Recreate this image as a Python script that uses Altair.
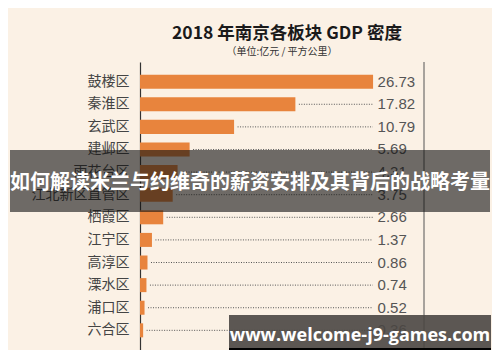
import altair as alt
import pandas as pd

# ---- data ----
districts = ["鼓楼区", "秦淮区", "玄武区", "建邺区", "雨花台区", "江北新区直管区",
             "栖霞区", "江宁区", "高淳区", "溧水区", "浦口区", "六合区"]
values = [26.73, 17.82, 10.79, 5.69, 4.31, 3.75, 2.66, 1.37, 0.86, 0.74, 0.52, 0.36]

title_text = ["2018 年南京各板块 GDP 密度"]
subtitle_text = ["（单位:亿元 / 平方公里）"]
banner_text = ["如何解读米兰与约维奇的薪资安排及其背后的战略考量"]
watermark_text = ["www.welcome-j9-games.com"]

df = pd.DataFrame({"district": districts, "value": values,
                   "label": [f"{v:.2f}" for v in values]})

BG = "#fbf1e5"
ORANGE = "#e8843d"
CJK = "Noto Sans CJK SC"

W, H = 284, 288
xscale = alt.Scale(domain=[0, 32.57], nice=False, zero=True)
yscale = alt.Scale(domain=districts, paddingInner=0.38, paddingOuter=0.56)

base = alt.Chart(df)

bars = base.mark_bar(color=ORANGE).encode(
    x=alt.X("value:Q", scale=xscale, axis=None),
    y=alt.Y("district:N", scale=yscale, sort=districts,
            axis=alt.Axis(title=None, ticks=False, grid=False, labelFontSize=14,
                          labelColor="#444", labelFont=CJK, labelPadding=11,
                          domainColor="#333", domainWidth=1.2)),
)

dots = base.transform_filter("datum.value < 26").transform_calculate(
    x0="datum.value + 0.4", x1="26.7"
).mark_rule(color="#555", strokeDash=[1, 1.5], strokeWidth=1).encode(
    x=alt.X("x0:Q", scale=xscale),
    x2="x1:Q",
    y=alt.Y("district:N", scale=yscale, sort=districts),
)

labels = base.transform_calculate(lx="27.25").mark_text(
    align="left", baseline="middle", fontSize=15, font="Liberation Sans", color="#555"
).encode(
    x=alt.X("lx:Q", scale=xscale),
    y=alt.Y("district:N", scale=yscale, sort=districts),
    text="label:N",
)

one = alt.Chart(pd.DataFrame({"a": [0]}))

right_line = one.mark_rule(color="#555", strokeWidth=1).encode(
    x=alt.value(W), y=alt.value(0), y2=alt.value(H))

title = alt.Chart(pd.DataFrame({"t": title_text})).mark_text(
    font=CJK, fontSize=17.5, fontWeight="bold", color="#1a1a1a", align="center", baseline="middle"
).encode(x=alt.value(147), y=alt.value(-28), text="t:N")

subtitle = alt.Chart(pd.DataFrame({"t": subtitle_text})).mark_text(
    font=CJK, fontSize=10, color="#333", align="center", baseline="middle"
).encode(x=alt.value(142), y=alt.value(-10), text="t:N")

banner = one.mark_rect(color="#111", opacity=0.6).encode(
    x=alt.value(-130), x2=alt.value(350), y=alt.value(88), y2=alt.value(150))

banner_t = alt.Chart(pd.DataFrame({"t": banner_text})).mark_text(
    font=CJK, fontSize=20, fontWeight="bold", color="white", align="center", baseline="middle"
).encode(x=alt.value(110), y=alt.value(121), text="t:N")

wm = one.mark_rect(color="#4a4642", opacity=0.9).encode(
    x=alt.value(89), x2=alt.value(351), y=alt.value(253), y2=alt.value(288))

wm_line = one.mark_rect(color="#000").encode(
    x=alt.value(89), x2=alt.value(351), y=alt.value(286), y2=alt.value(288))

wm_t = alt.Chart(pd.DataFrame({"t": watermark_text})).mark_text(
    font="Open Sans", fontSize=18, fontWeight="bold", color="white", align="center", baseline="middle"
).encode(x=alt.value(220), y=alt.value(274), text="t:N")

chart = alt.layer(
    bars, dots, labels, right_line, title, subtitle, banner, banner_t, wm, wm_line, wm_t
).properties(
    width=W, height=H, background=BG,
    padding={"left": 132, "right": 68, "top": 54, "bottom": 0},
    autosize=alt.AutoSizeParams(type="none"),
).configure_view(stroke=None)

chart.save("out.html", embed_options={"renderer": "svg", "actions": False})
